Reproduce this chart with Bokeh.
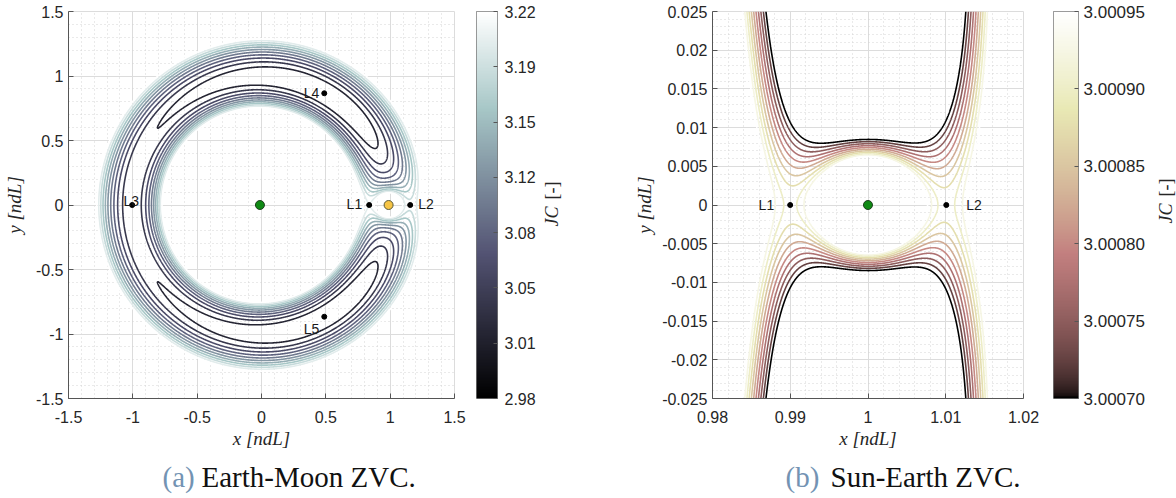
import numpy as np
from bokeh.plotting import figure
from bokeh.layouts import row, column
from bokeh.models import FixedTicker, Label, LinearColorMapper, Range1d
from bokeh.core.properties import value
from bokeh.embed import file_html
from bokeh.resources import INLINE

# ---------------- data ----------------
MU_EM = 0.01215            # Earth-Moon mass parameter
MU_SE = 3.0035e-6          # Sun-Earth mass parameter

JC_LEVELS_EM = [2.98, 3.00, 3.02, 3.04, 3.06, 3.08, 3.10, 3.12, 3.14, 3.16, 3.18, 3.20, 3.22]
JC_LIM_EM = [2.98, 3.22]
JC_LEVELS_SE = [3.000700, 3.000725, 3.000750, 3.000775, 3.000800, 3.000825,
                3.000850, 3.000875, 3.000900, 3.000925, 3.000950]
JC_LIM_SE = [3.00070, 3.00095]

LAG_EM_NAME = ["L1", "L2", "L3", "L4", "L5"]
LAG_EM_X = [0.8369, 1.1557, -1.0051, 0.4879, 0.4879]
LAG_EM_Y = [0.0, 0.0, 0.0, 0.8660, -0.8660]
EARTH_EM = [-0.01215, 0.0]
MOON_EM = [0.98785, 0.0]

LAG_SE_NAME = ["L1", "L2"]
LAG_SE_X = [0.98999, 1.01007]
LAG_SE_Y = [0.0, 0.0]
EARTH_SE = [0.999997, 0.0]

XTICKS_EM = [-1.5, -1.0, -0.5, 0.0, 0.5, 1.0, 1.5]
XTICK_LABELS_EM = ["-1.5", "-1", "-0.5", "0", "0.5", "1", "1.5"]
YTICKS_EM = XTICKS_EM
YTICK_LABELS_EM = XTICK_LABELS_EM
MINOR_EM = [round(-1.5 + 0.1 * i, 1) for i in range(31)]

XTICKS_SE = [0.98, 0.99, 1.0, 1.01, 1.02]
XTICK_LABELS_SE = ["0.98", "0.99", "1", "1.01", "1.02"]
XMINOR_SE = [round(0.98 + 0.002 * i, 3) for i in range(21)]
YTICKS_SE = [-0.025, -0.02, -0.015, -0.01, -0.005, 0.0, 0.005, 0.01, 0.015, 0.02, 0.025]
YTICK_LABELS_SE = ["-0.025", "-0.02", "-0.015", "-0.01", "-0.005", "0", "0.005", "0.01", "0.015", "0.02", "0.025"]
YMINOR_SE = [round(-0.025 + 0.001 * i, 3) for i in range(51)]

CB_TICKS_EM = [2.98, 3.014286, 3.048571, 3.082857, 3.117143, 3.151429, 3.185714, 3.22]
CB_LABELS_EM = ["2.98", "3.01", "3.05", "3.08", "3.12", "3.15", "3.19", "3.22"]
CB_TICKS_SE = [3.00070, 3.00075, 3.00080, 3.00085, 3.00090, 3.00095]
CB_LABELS_SE = ["3.00070", "3.00075", "3.00080", "3.00085", "3.00090", "3.00095"]

CAPTION_A = ["(a)", "Earth-Moon ZVC."]
CAPTION_B = ["(b)", "Sun-Earth ZVC."]

# ---------------- helpers ----------------
def hot(t):
    t = np.asarray(t, dtype=float)
    r = np.clip(t / 0.375, 0, 1)
    g = np.clip((t - 0.375) / 0.375, 0, 1)
    b = np.clip((t - 0.75) / 0.25, 0, 1)
    return r, g, b

def bone(t):
    t = np.asarray(t, dtype=float)
    hr, hg, hb = hot(t)
    return (7 * t + hb) / 8, (7 * t + hg) / 8, (7 * t + hr) / 8

def pink(t):
    t = np.asarray(t, dtype=float)
    hr, hg, hb = hot(t)
    return np.sqrt((2 * t + hr) / 3), np.sqrt((2 * t + hg) / 3), np.sqrt((2 * t + hb) / 3)

def to_hex(rgb):
    r, g, b = [np.atleast_1d(np.clip(c, 0, 1)) for c in rgb]
    return ["#%02x%02x%02x" % (int(round(a * 255)), int(round(bb * 255)), int(round(c * 255)))
            for a, bb, c in zip(r, g, b)]

def level_colors(levels, lim, cmap):
    t = (np.array(levels) - lim[0]) / (lim[1] - lim[0])
    return to_hex(cmap(np.clip(t, 0, 1)))

def jacobi(X, Y, mu):
    r1 = np.sqrt((X + mu) ** 2 + Y ** 2)
    r2 = np.sqrt((X - 1 + mu) ** 2 + Y ** 2)
    return X ** 2 + Y ** 2 + 2 * (1 - mu) / r1 + 2 * mu / r2 + mu * (1 - mu)

TICK_FONT = "Liberation Sans"
SERIF = "Liberation Serif"
TXT = "#262626"
GRID = "#dcdcdc"
TOP_H = 456
MB_TOP = 11
MB_BOTTOM = TOP_H - 398
FRAME_H = TOP_H - MB_TOP - MB_BOTTOM

def style_axes(p, xt, xl, xm, yt, yl, ym, ylabel_standoff):
    p.xaxis.ticker = FixedTicker(ticks=xt, minor_ticks=xm)
    p.yaxis.ticker = FixedTicker(ticks=yt, minor_ticks=ym)
    p.xaxis.major_label_overrides = dict(zip(xt, xl))
    p.yaxis.major_label_overrides = dict(zip(yt, yl))
    for ax in (p.xaxis[0], p.yaxis[0]):
        ax.major_tick_in = 5
        ax.major_tick_out = 0
        ax.minor_tick_in = 0
        ax.minor_tick_out = 0
        ax.axis_line_color = "#555555"
        ax.major_tick_line_color = "#555555"
        ax.major_label_text_font = TICK_FONT
        ax.major_label_text_font_size = "16px"
        ax.major_label_text_color = TXT
        ax.axis_label_text_font = SERIF
        ax.axis_label_text_font_style = "italic"
        ax.axis_label_text_font_size = "19px"
        ax.axis_label_text_color = TXT
    p.xaxis.axis_label = "x [ndL]"
    p.yaxis.axis_label = "y [ndL]"
    p.xaxis.major_label_standoff = 12
    p.yaxis.major_label_standoff = 5
    p.xaxis.axis_label_standoff = 2
    p.yaxis.axis_label_standoff = ylabel_standoff
    for g in (p.xgrid[0], p.ygrid[0]):
        g.grid_line_color = GRID
        g.grid_line_width = 1
        g.minor_grid_line_color = "#d4d4d4"
        g.minor_grid_line_dash = "1 3"
        g.minor_grid_line_width = 1
    p.outline_line_color = GRID
    p.background_fill_color = "white"
    p.border_fill_color = "white"

def bare_figure(width, height, xr, yr, top=0, bottom=0):
    f = figure(title=None, width=width, height=height, x_range=xr, y_range=yr,
               output_backend="svg", toolbar_location=None,
               x_axis_location=None, y_axis_location=None,
               min_border_left=0, min_border_right=0, min_border_top=top, min_border_bottom=bottom)
    f.xgrid.visible = False
    f.ygrid.visible = False
    f.outline_line_color = None
    f.background_fill_color = "white"
    f.border_fill_color = "white"
    return f

def make_colorbar(lim, cmap, ticks, labels, mb_left, bar_w, mb_right, tick_font, standoff):
    lo, hi = lim
    cb = figure(title=None, width=mb_left + bar_w + mb_right, height=TOP_H, x_range=Range1d(0, 1),
                y_range=Range1d(lo, hi), output_backend="svg", toolbar_location=None,
                x_axis_location=None, y_axis_location="right",
                min_border_left=mb_left, min_border_right=mb_right,
                min_border_top=MB_TOP, min_border_bottom=MB_BOTTOM)
    pal = to_hex(cmap(np.linspace(0, 1, 256)))
    grad = np.linspace(0, 1, 256).reshape(256, 1)
    mapper = LinearColorMapper(palette=pal, low=0, high=1)
    cb.image(image=[grad], x=0, y=lo, dw=1, dh=hi - lo, color_mapper=mapper)
    cb.xgrid.visible = False
    cb.ygrid.visible = False
    cb.outline_line_color = "#7a7a7a"
    ax = cb.yaxis[0]
    ax.ticker = FixedTicker(ticks=ticks)
    ax.major_label_overrides = dict(zip(ticks, labels))
    ax.major_tick_in = 4
    ax.major_tick_out = 0
    ax.minor_tick_in = 0
    ax.minor_tick_out = 0
    ax.axis_line_color = None
    ax.major_tick_line_color = "#555555"
    ax.major_label_text_font = TICK_FONT
    ax.major_label_text_font_size = tick_font
    ax.major_label_text_color = TXT
    ax.major_label_standoff = standoff
    cb.background_fill_color = "white"
    cb.border_fill_color = "white"
    return cb

def make_jc_label(width, x_center, y_start_px):
    f = bare_figure(width, TOP_H, Range1d(0, width), Range1d(0, FRAME_H), MB_TOP, MB_BOTTOM)
    y0 = (MB_TOP + FRAME_H) - y_start_px
    f.text(x=[x_center], y=[y0], text=["JC"], angle=np.pi / 2, text_align="left",
           text_baseline="middle", text_font=value(SERIF), text_font_style="italic",
           text_font_size="18px", text_color=TXT)
    f.text(x=[x_center], y=[y0 + 27], text=["[-]"], angle=np.pi / 2, text_align="left",
           text_baseline="middle", text_font=value(SERIF), text_font_size="18px",
           text_color=TXT)
    return f

def add_points(p, names, xs, ys, offsets):
    p.scatter(xs, ys, size=5, color="black")
    for n, x, y in zip(names, xs, ys):
        dx, dy, al, bl = offsets[n]
        p.add_layout(Label(x=x, y=y, text=n, x_offset=dx, y_offset=dy, text_align=al,
                           text_baseline=bl, text_font=TICK_FONT, text_font_size="14px",
                           text_color="#1a1a1a"))

# ---------------- panel (a): Earth-Moon ----------------
p1 = figure(title=None, width=474, height=TOP_H, x_range=(-1.5, 1.5), y_range=(-1.5, 1.5),
            output_backend="svg", toolbar_location=None,
            min_border_left=67, min_border_right=20, min_border_top=MB_TOP,
            min_border_bottom=MB_BOTTOM)
style_axes(p1, XTICKS_EM, XTICK_LABELS_EM, MINOR_EM, YTICKS_EM, YTICK_LABELS_EM, MINOR_EM, 8)

gx = np.linspace(-1.5, 1.5, 901)
gy = np.linspace(-1.5, 1.5, 901)
GX, GY = np.meshgrid(gx, gy)
Z1 = np.minimum(jacobi(GX, GY, MU_EM), 6.0)
p1.contour(gx, gy, Z1, levels=JC_LEVELS_EM,
           line_color=level_colors(JC_LEVELS_EM, JC_LIM_EM, bone), line_width=1.6)

p1.scatter([EARTH_EM[0]], [EARTH_EM[1]], size=9, fill_color="#0f8a14", line_color="#1f3f1f", line_width=1)
p1.scatter([MOON_EM[0]], [MOON_EM[1]], size=9, fill_color="#f6c445", line_color="#5a5a3a", line_width=1)
add_points(p1, LAG_EM_NAME, LAG_EM_X, LAG_EM_Y, {
    "L1": (-7, 1, "right", "alphabetic"),
    "L2": (8, 1, "left", "alphabetic"),
    "L3": (-1, 4, "center", "alphabetic"),
    "L4": (-5, 0, "right", "alphabetic"),
    "L5": (-5, -12, "right", "alphabetic"),
})

cb1 = make_colorbar(JC_LIM_EM, bone, CB_TICKS_EM, CB_LABELS_EM, mb_left=2, bar_w=23,
                    mb_right=39, tick_font="16px", standoff=7)
jc1 = make_jc_label(62, 13, 226)

# ---------------- panel (b): Sun-Earth ----------------
p2 = figure(title=None, width=445, height=TOP_H, x_range=(0.98, 1.02), y_range=(-0.025, 0.025),
            output_backend="svg", toolbar_location=None,
            min_border_left=112, min_border_right=22, min_border_top=MB_TOP,
            min_border_bottom=MB_BOTTOM)
style_axes(p2, XTICKS_SE, XTICK_LABELS_SE, XMINOR_SE, YTICKS_SE, YTICK_LABELS_SE, YMINOR_SE, 4)

hx = np.linspace(0.98, 1.02, 1001)
hy = np.linspace(-0.025, 0.025, 1001)
HX, HY = np.meshgrid(hx, hy)
Z2 = np.minimum(jacobi(HX, HY, MU_SE), 3.01)
p2.contour(hx, hy, Z2, levels=JC_LEVELS_SE,
           line_color=level_colors(JC_LEVELS_SE, JC_LIM_SE, pink), line_width=1.6)

p2.scatter([EARTH_SE[0]], [EARTH_SE[1]], size=9, fill_color="#0f8a14", line_color="#1f3f1f", line_width=1)
add_points(p2, LAG_SE_NAME, LAG_SE_X, LAG_SE_Y, {
    "L1": (-16, 0, "right", "middle"),
    "L2": (20, 0, "left", "middle"),
})

cb2 = make_colorbar(JC_LIM_SE, pink, CB_TICKS_SE, CB_LABELS_SE, mb_left=8, bar_w=25,
                    mb_right=70, tick_font="17px", standoff=5)
jc2 = make_jc_label(28, 17, 223)

# ---------------- captions ----------------
cap = bare_figure(1176, 498 - TOP_H, Range1d(0, 1176), Range1d(498, TOP_H))
cap.text(x=[162, 785], y=[476, 476], text=[CAPTION_A[0], CAPTION_B[0]], text_align="left",
         text_baseline="middle", text_font=value(SERIF), text_font_size="29px",
         text_color="#7393b3")
cap.text(x=[201, 830], y=[476, 476], text=[CAPTION_A[1], CAPTION_B[1]], text_align="left",
         text_baseline="middle", text_font=value(SERIF), text_font_size="29px",
         text_color="#111111")

layout = column(row(p1, cb1, jc1, p2, cb2, jc2, spacing=0), cap, spacing=0)
open("out.html", "w").write(file_html(layout, INLINE))
